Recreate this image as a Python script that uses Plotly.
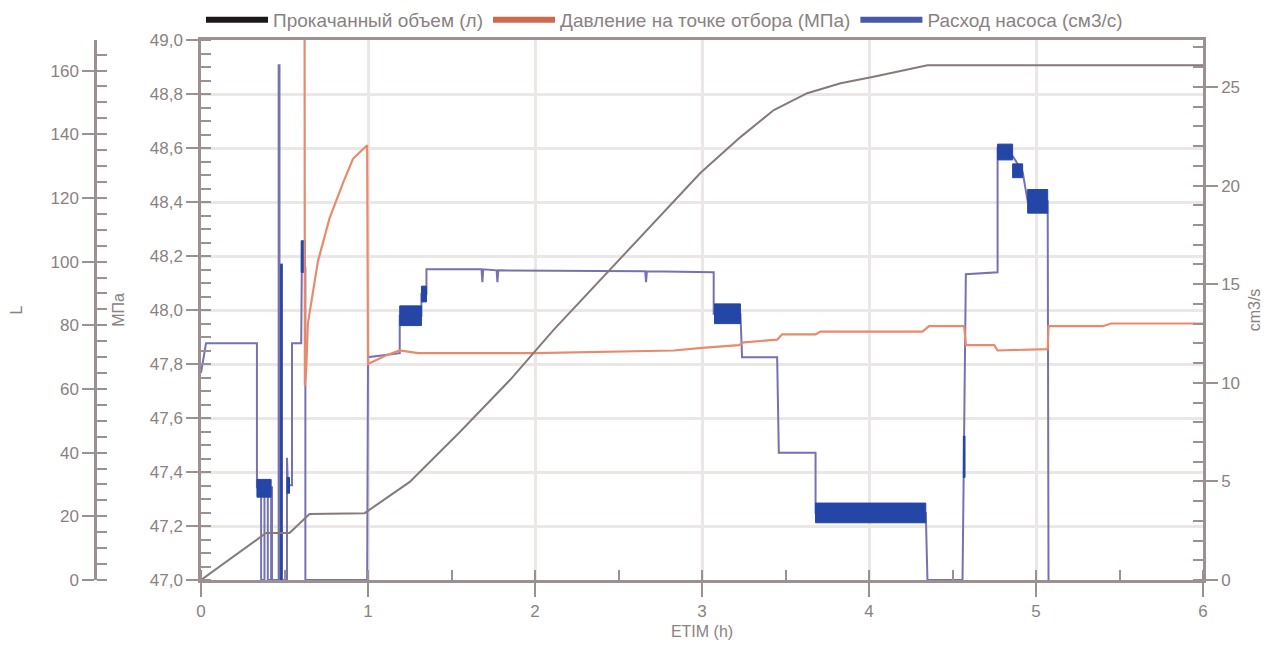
import plotly.graph_objects as go

# ---------------- data ----------------
# Pumped volume (L) vs time (h)
vol_t = [0.00, 0.39, 0.53, 0.65, 0.98, 1.25, 1.55, 1.85, 2.11, 2.39, 2.63, 2.99,
         3.23, 3.43, 3.63, 3.83, 4.02, 4.35, 6.00]
vol_L = [0.0, 14.8, 14.8, 20.7, 21.0, 30.8, 46.5, 62.8, 78.5, 94.2, 107.7, 127.8,
         139.1, 147.6, 152.9, 156.0, 158.0, 161.7, 161.7]

# Pressure at sampling point (MPa) vs time (h)
press_t = [0.620, 0.622, 0.630, 0.640, 0.70, 0.77, 0.85, 0.91, 0.995, 1.000, 1.10, 1.19,
           1.30, 2.00, 2.83, 3.00, 3.22, 3.25, 3.45, 3.48, 3.68, 3.71, 4.32, 4.36,
           4.57, 4.58, 4.75, 4.77, 5.07, 5.075, 5.40, 5.45, 6.00]
press_MPa = [49.30, 47.72, 47.78, 47.95, 48.18, 48.34, 48.47, 48.56, 48.61, 47.80, 47.83, 47.85,
             47.84, 47.84, 47.85, 47.86, 47.87, 47.88, 47.89, 47.91, 47.91, 47.92, 47.92, 47.94,
             47.94, 47.87, 47.87, 47.85, 47.855, 47.94, 47.94, 47.95, 47.95]

# Pump flow rate (cm3/s) vs time (h)
pump_t = [0.000, 0.030, 0.335, 0.335, 0.360, 0.360, 0.380, 0.380, 0.400, 0.400, 0.420, 0.420,
          0.425, 0.425, 0.465, 0.465, 0.470, 0.470, 0.478, 0.478, 0.485, 0.485, 0.515, 0.515,
          0.520, 0.545, 0.545, 0.600, 0.605, 0.625, 0.625, 0.995, 1.000, 1.190, 1.190, 1.320,
          1.320, 1.350, 1.350, 1.680, 1.685, 1.690, 1.770, 1.775, 1.780, 2.660, 2.665, 2.670,
          3.070, 3.070, 3.230, 3.240, 3.450, 3.460, 3.680, 3.680, 4.340, 4.350, 4.560, 4.570,
          4.580, 4.770, 4.770, 4.860, 4.920, 4.950, 5.070, 5.075]
pump_q = [10.5, 12.0, 12.0, 4.7, 4.7, 0.0, 0.0, 4.7, 4.7, 0.0, 0.0, 4.7,
          4.7, 0.0, 0.0, 26.1, 26.1, 0.0, 0.0, 16.0, 16.0, 0.0, 0.0, 6.2,
          4.8, 4.8, 12.0, 12.0, 17.2, 15.8, 0.0, 0.0, 11.3, 11.5, 13.4, 13.4,
          14.5, 14.5, 15.75, 15.75, 15.1, 15.75, 15.7, 15.1, 15.7, 15.65, 15.1, 15.65,
          15.6, 13.5, 13.5, 11.3, 11.3, 6.45, 6.45, 3.4, 3.4, 0.0, 0.0, 6.5,
          15.5, 15.6, 21.9, 21.5, 20.7, 19.2, 19.2, 0.0]

# Oscillating (noisy) stretches of the pump flow: start, end, low, high
band_t0 = [0.335, 0.515, 0.600, 0.477, 1.19, 1.32, 3.075, 3.68, 4.565, 4.77, 4.86, 4.95]
band_t1 = [0.420, 0.530, 0.625, 0.485, 1.32, 1.35, 3.230, 4.34, 4.575, 4.86, 4.92, 5.07]
band_lo = [4.2, 4.4, 15.6, 0.0, 12.9, 14.1, 13.0, 2.9, 5.2, 21.3, 20.4, 18.6]
band_hi = [5.1, 5.2, 17.2, 16.0, 13.9, 14.9, 14.0, 3.9, 7.3, 22.1, 21.1, 19.8]

series_names = ["Прокачанный объем (л)", "Давление на точке отбора (MПа)", "Расход насоса (см3/с)"]

# ---------------- styling ----------------
# page body has an 8px margin, so the figure is 8px smaller and shifted
W, H = 1273, 646
OFF = 8
AX = "#9b9191"
TXT = "#8a8282"
GRID = "#ebe7e7"
FONT = "Liberation Sans, Arial, sans-serif"

fig = go.Figure()

# pump flow (main axis y = cm3/s, right)
fig.add_trace(go.Scatter(x=pump_t, y=pump_q, mode="lines", yaxis="y",
                         line=dict(color="#7672b2", width=2), showlegend=False,
                         hoverinfo="skip"))
for t0, t1, lo, hi in zip(band_t0, band_t1, band_lo, band_hi):
    fig.add_trace(go.Scatter(x=[t0, t1, t1, t0, t0], y=[lo, lo, hi, hi, lo],
                             mode="lines", fill="toself", fillcolor="#2446a6",
                             line=dict(color="#2446a6", width=1), yaxis="y",
                             showlegend=False, hoverinfo="skip"))

# pressure (MPa, left at plot edge)
fig.add_trace(go.Scatter(x=press_t, y=press_MPa, mode="lines", yaxis="y2",
                         line=dict(color="#e88a6c", width=2.2), showlegend=False))

# volume (L, free left axis)
fig.add_trace(go.Scatter(x=vol_t, y=vol_L, mode="lines", yaxis="y3",
                         line=dict(color="#857a7a", width=2), showlegend=False))

# legend entries
for name, col in zip(series_names, ["#1c1818", "#cc6a4e", "#4a58a8"]):
    fig.add_trace(go.Scatter(x=[None], y=[None], mode="lines", name=name,
                             line=dict(color=col, width=6), yaxis="y"))

x0 = (201 - OFF) / W
x1 = (1203 - OFF) / W
top = 40 - OFF
bottom = 580 - OFF

common = dict(showline=True, linecolor=AX, linewidth=2.5, tickcolor=AX, tickwidth=2,
              tickfont=dict(family=FONT, size=17, color=TXT), zeroline=False)

fig.update_layout(
    width=W, height=H,
    margin=dict(l=0, r=0, t=top, b=H - bottom, autoexpand=False),
    paper_bgcolor="white", plot_bgcolor="white",
    separators=", ",
    font=dict(family=FONT, color=TXT),
    xaxis=dict(domain=[x0, x1], range=[0, 6], dtick=1, tick0=0,
               ticks="outside", ticklen=14,
               minor=dict(dtick=0.5, ticks="inside", ticklen=10, tickcolor=AX, tickwidth=2),
               showgrid=True, gridcolor=GRID, gridwidth=2.5, mirror=True,
               title=dict(text="ETIM (h)", font=dict(family=FONT, size=16, color=TXT), standoff=6),
               **common),
    yaxis=dict(range=[0, 27.38], side="right", anchor="x", dtick=5, tick0=0,
               ticks="outside", ticklen=12,
               minor=dict(dtick=1, ticks="inside", ticklen=10, tickcolor=AX, tickwidth=2),
               showgrid=False,
               title=dict(text="cm3/s", font=dict(family=FONT, size=16, color=TXT), standoff=10),
               **common),
    yaxis2=dict(range=[47, 49], overlaying="y", side="left", anchor="x", dtick=0.2, tick0=47,
                tickformat=".1f", ticks="outside", ticklen=12,
                minor=dict(dtick=0.05, ticks="inside", ticklen=10, tickcolor=AX, tickwidth=2),
                showgrid=True, gridcolor=GRID, gridwidth=2.5,
                title=dict(text="МПа", font=dict(family=FONT, size=16, color=TXT), standoff=22),
                **common),
    yaxis3=dict(range=[0, 169.6], overlaying="y", side="left", anchor="free",
                position=(95 - OFF) / W, dtick=20, tick0=0, ticks="outside", ticklen=12,
                minor=dict(dtick=5, ticks="inside", ticklen=10, tickcolor=AX, tickwidth=2),
                showgrid=False,
                title=dict(text="L", font=dict(family=FONT, size=16, color=TXT), standoff=26),
                **common),
    legend=dict(orientation="h", x=x0, xanchor="left",
                y=(bottom - (20 - OFF)) / (bottom - top), yanchor="middle",
                font=dict(family=FONT, size=19, color=TXT), bgcolor="rgba(0,0,0,0)",
                itemwidth=62),
    showlegend=True,
)

fig.write_html("out.html")
